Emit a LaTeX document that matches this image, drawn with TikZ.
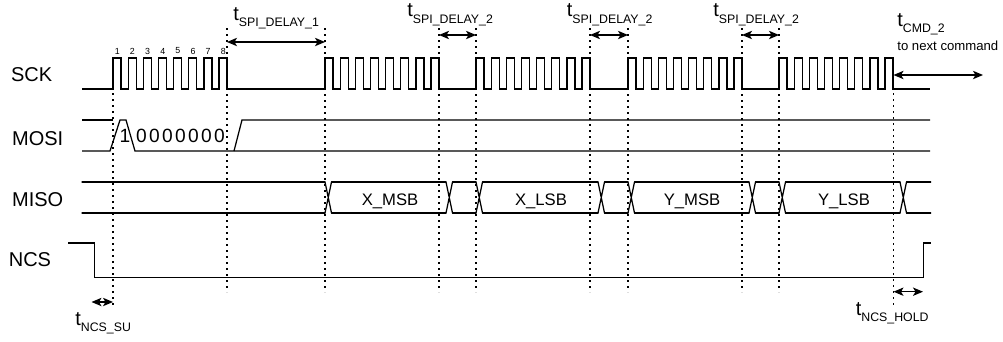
\documentclass[tikz,border=0pt]{standalone}
\usepackage{fontspec}
\setmainfont{Liberation Sans}
\usetikzlibrary{arrows.meta}

\tikzset{
  wave/.style={line width=0.75pt, line join=miter},
  guide/.style={line width=1.1pt, dash pattern=on 1.1pt off 2.5pt},
  dimarrow/.style={line width=0.75pt, {Stealth[length=6pt,width=5pt,inset=1.5pt]}-{Stealth[length=6pt,width=5pt,inset=1.5pt]}},
  siglabel/.style={anchor=base west, inner sep=0pt, font=\fontsize{12}{12}\selectfont},
  datalabel/.style={anchor=base, inner sep=0pt, font=\fontsize{10}{10}\selectfont},
  bitlabel/.style={anchor=base, inner sep=0pt, font=\fontsize{11.5}{12}\selectfont},
  ticklabel/.style={inner sep=0pt, font=\fontsize{5.3}{6}\selectfont},
  timelabel/.style={anchor=base west, inner sep=0pt, font=\fontsize{12}{12}\selectfont},
}
\newcommand{\tsub}[1]{t\raisebox{-4pt}{\fontsize{7.4}{8}\selectfont #1}}

\begin{document}
\begin{tikzpicture}[x=0.6pt,y=-0.6pt]

\path[fill=white,use as bounding box] (0,0) rectangle (1003,341);

\node[siglabel] (sck)  at (10.8,81)  {SCK};
\node[siglabel] (mosi) at (11.8,145) {MOSI};
\node[siglabel] (miso) at (11.8,206) {MISO};
\node[siglabel] (ncs)  at (8.5,266.5) {NCS};

% SCK
\draw[wave] (82,89) \foreach \s in {113,325,476,628,779} {
    \foreach \k in {0,...,7} {
      -- ({\s+\k*15.15},89) -- ++(0,-31) -- ++(8,0) -- ++(0,31)
    }
  } -- (930,89);
\foreach \n in {1,...,8}
  \node[ticklabel] (tick\n) at ({113+(\n-1)*15.15+4.3},51) {\n};

% MOSI
\draw[wave] (82,120) -- (113,120);
\draw[wave] (82,151) -- (110,151) -- (120,120) -- (126,120) -- (135,151) -- (930,151);
\draw[wave] (234,151) -- (242,120) -- (930,120);
\node[bitlabel] (bit1) at (125,142) {1};
\foreach \k in {0,...,6}
  \node[bitlabel] (bit0\k) at ({141.5+\k*13},142) {0};

% MISO
\foreach \a/\b in {82/325, 331.5/446, 452.5/476, 482.5/598, 604.5/628,
                   634.5/749, 755.5/779, 785.5/900, 906.5/930.7}
  \draw[wave, line cap=round] (\a,182) -- (\b,182) (\a,213) -- (\b,213);
\foreach \c in {325,446,476,598,628,749,779,900}
  \draw[wave, line cap=round] (\c,182) -- ++(6.5,31) (\c,213) -- ++(6.5,-31);
\node[datalabel] (xmsb) at (390,205) {X\_MSB};
\node[datalabel] (xlsb) at (541,205) {X\_LSB};
\node[datalabel] (ymsb) at (692,205) {Y\_MSB};
\node[datalabel] (ylsb) at (844,205) {Y\_LSB};

% NCS
\draw[wave] (68,243) -- (94.3,243) -- (94.3,277.5) -- (923.3,277.5) -- (923.3,243) -- (930.7,243);

% guides
\draw[guide] (113,93) -- (113,308);
\foreach \g in {227,325,439,476,590,628,742,779}
  \draw[guide] (\g,28) -- (\g,292);
\draw[guide] (893.5,93) -- (893.5,307);

% timings
\coordinate (dly1a) at (227,42);   \coordinate (dly1b) at (325,42);
\coordinate (dly2a) at (439,35);   \coordinate (dly2b) at (476,35);
\coordinate (dly3a) at (590,35);   \coordinate (dly3b) at (628,35);
\coordinate (dly4a) at (742,35);   \coordinate (dly4b) at (779,35);
\coordinate (cmda)  at (893.5,75); \coordinate (cmdb)  at (983,75);
\coordinate (sua)   at (91.5,302); \coordinate (sub)   at (113,302);
\coordinate (holda) at (893.5,291.7); \coordinate (holdb) at (923,291.7);

\draw[dimarrow] (dly1a) -- (dly1b);
\draw[dimarrow] (dly2a) -- (dly2b);
\draw[dimarrow] (dly3a) -- (dly3b);
\draw[dimarrow] (dly4a) -- (dly4b);
\draw[dimarrow] (cmda) -- (cmdb);
\draw[dimarrow] (sua) -- (sub);
\draw[dimarrow] (holda) -- (holdb);

\node[timelabel] (tdly1) at (233,20)   {\tsub{SPI\_DELAY\_1}};
\node[timelabel] (tdly2) at (407,16.5) {\tsub{SPI\_DELAY\_2}};
\node[timelabel] (tdly3) at (566.5,16.5) {\tsub{SPI\_DELAY\_2}};
\node[timelabel] (tdly4) at (713,16.5) {\tsub{SPI\_DELAY\_2}};
\node[timelabel] (tcmd)  at (897,26)   {\tsub{CMD\_2}};
\node[anchor=base west, inner sep=0pt, font=\fontsize{7.9}{8}\selectfont] (next) at (897,50) {to next command};
\node[timelabel] (tsu)   at (75,325)   {\tsub{NCS\_SU}};
\node[timelabel] (thold) at (855.5,315) {\tsub{NCS\_HOLD}};

\end{tikzpicture}
\end{document}
